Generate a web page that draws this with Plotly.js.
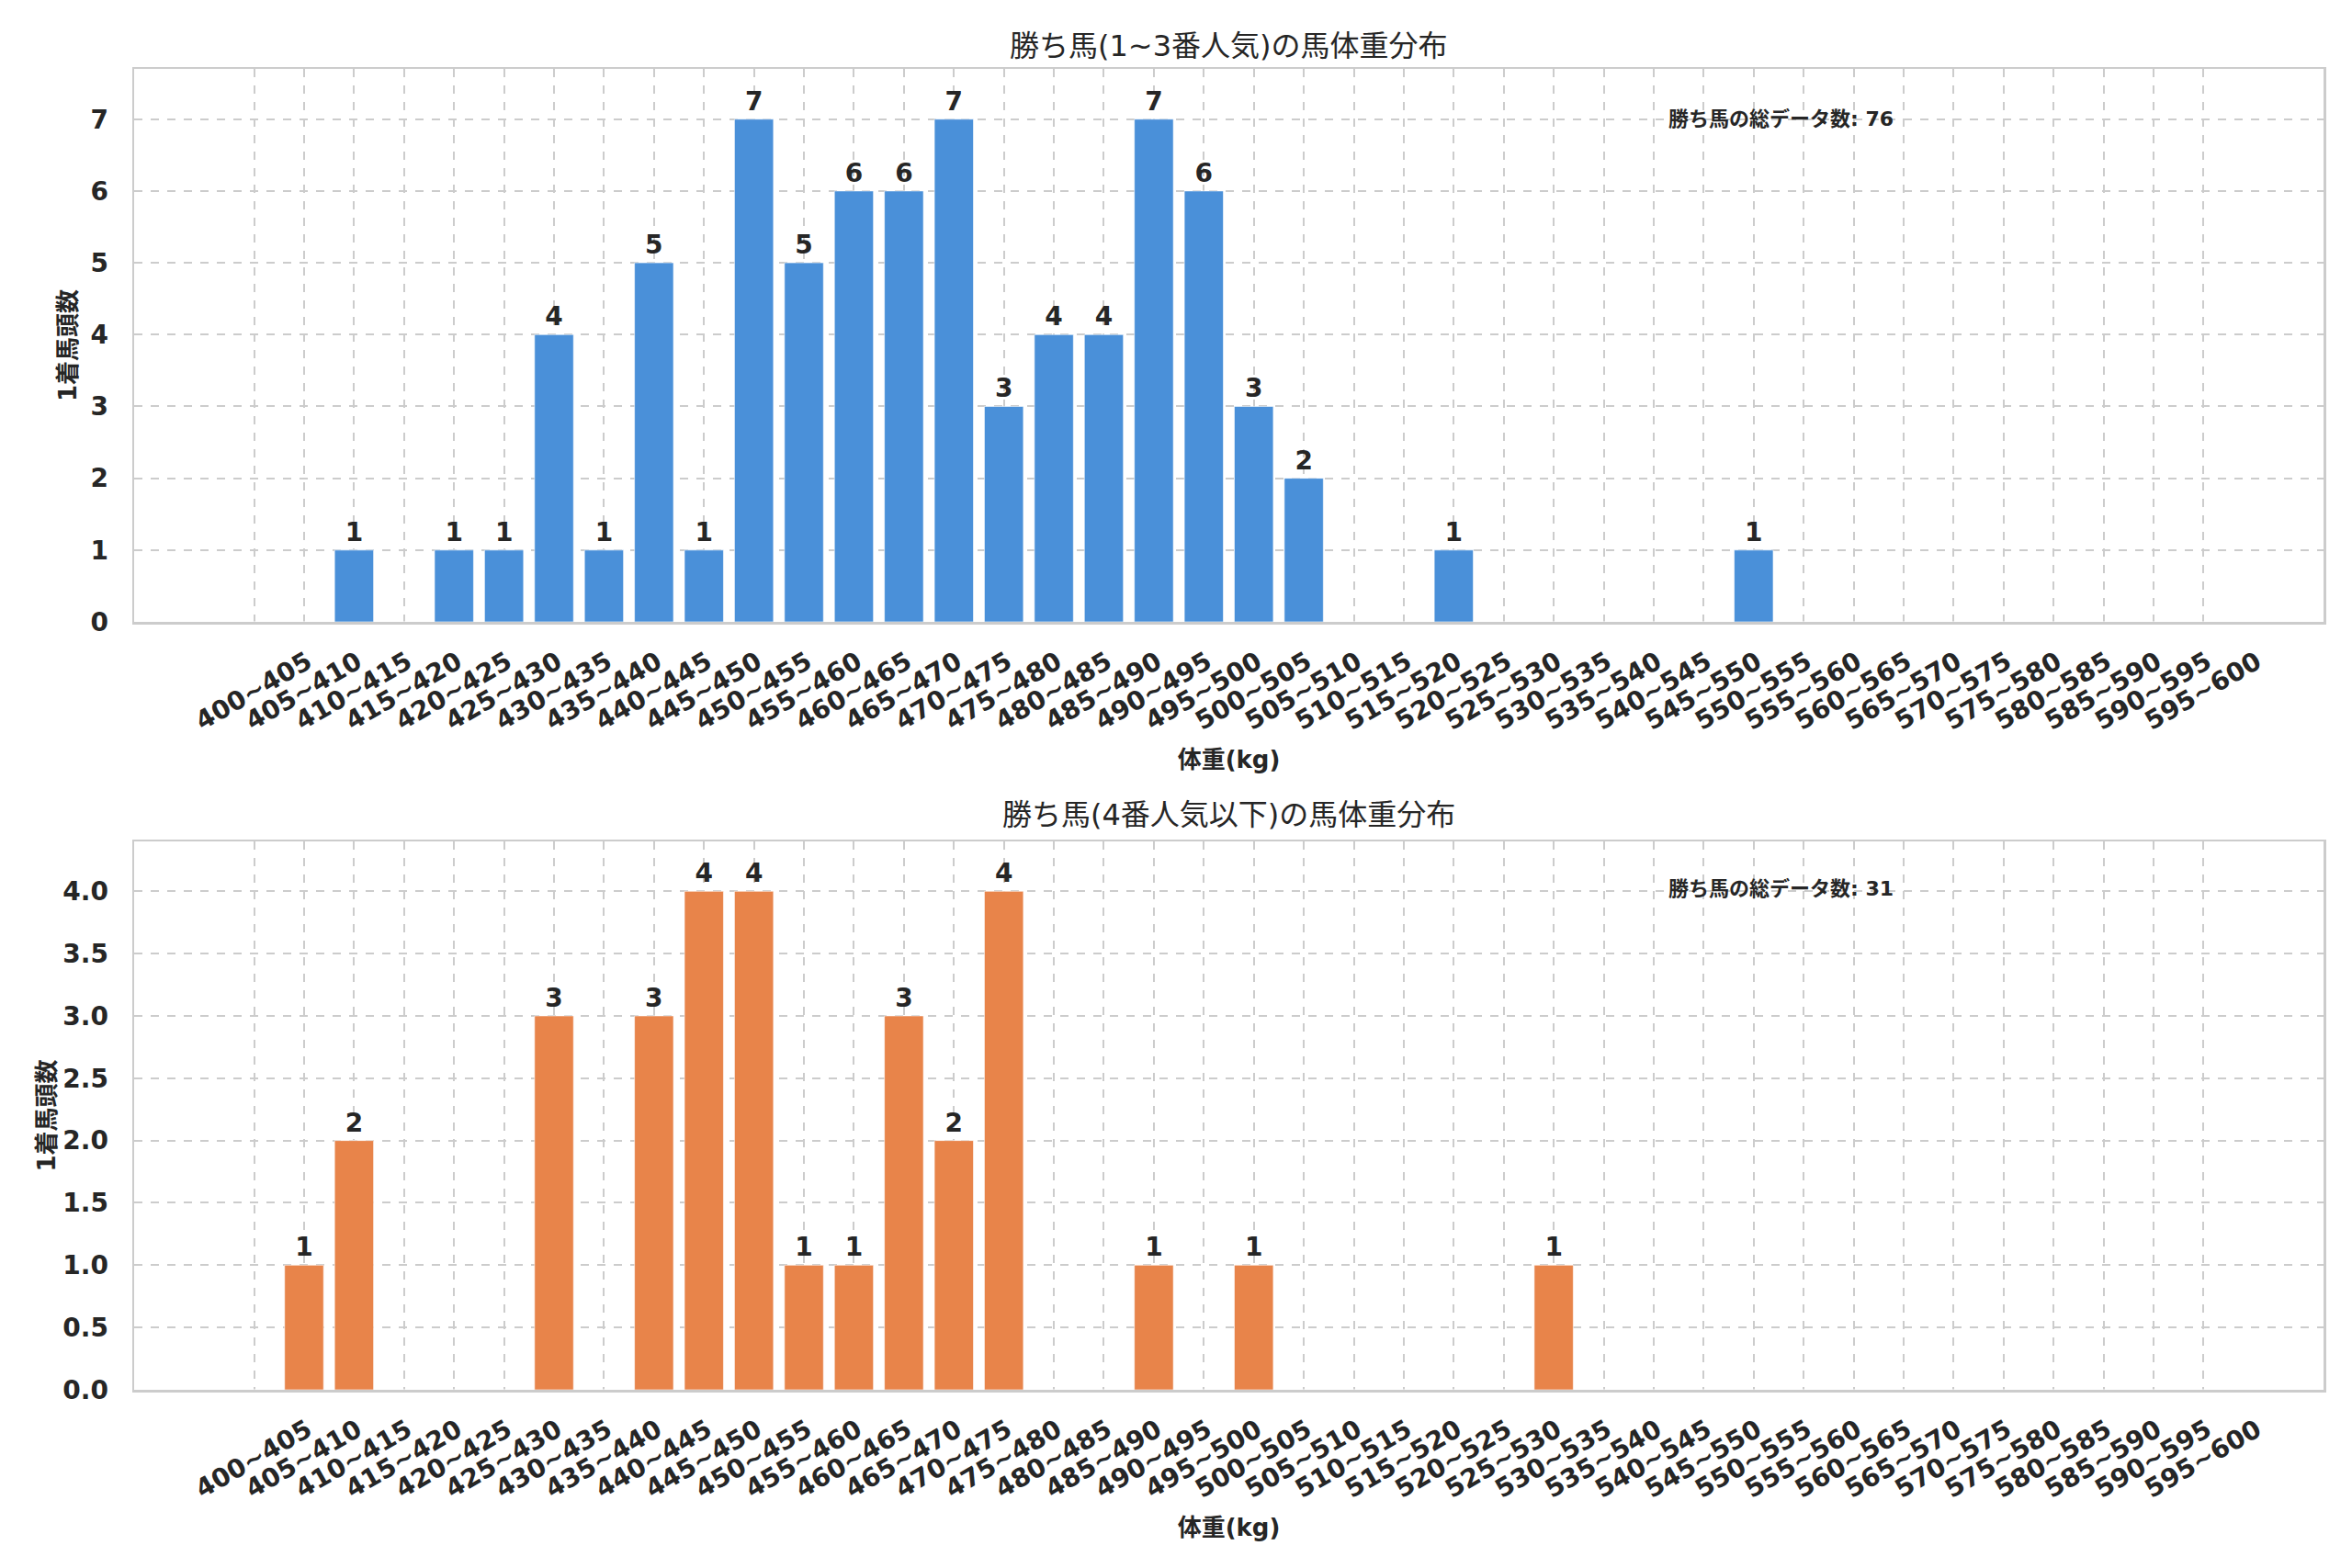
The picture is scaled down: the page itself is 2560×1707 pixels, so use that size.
<!DOCTYPE html>
<html>
<head>
<meta charset="utf-8">
<script src="https://cdn.plot.ly/plotly-3.0.1.min.js"></script>
<style>html,body{margin:0;padding:0;background:#fff;}#chart{width:2560px;height:1707px;}</style>
</head>
<body>
<div id="chart"></div>
<script>
// ---- data ----
const weightBins = ["400~405","405~410","410~415","415~420","420~425","425~430","430~435","435~440","440~445","445~450",
  "450~455","455~460","460~465","465~470","470~475","475~480","480~485","485~490","490~495","495~500",
  "500~505","505~510","510~515","515~520","520~525","525~530","530~535","535~540","540~545","545~550",
  "550~555","555~560","560~565","565~570","570~575","575~580","580~585","585~590","590~595","595~600"];
const topCounts =    [0,0,1,0,1,1,4,1,5,1, 7,5,6,6,7,3,4,4,7,6, 3,2,0,0,1,0,0,0,0,0, 1,0,0,0,0,0,0,0,0,0];
const bottomCounts = [0,1,2,0,0,0,3,0,3,4, 4,1,1,3,2,4,0,0,1,0, 1,0,0,0,0,0,1,0,0,0, 0,0,0,0,0,0,0,0,0,0];
const titleTop = "勝ち馬(1~3番人気)の馬体重分布";
const titleBottom = "勝ち馬(4番人気以下)の馬体重分布";
const xLabel = "体重(kg)";
const yLabel = "1着馬頭数";
const totalLabel = "勝ち馬の総データ数";

// ---- styling ----
const FONT = "'DejaVu Sans', 'Noto Sans CJK JP', sans-serif";
const DARK = "#262626";
const W = 2560, H = 1707;
const mL = 146, mR = 31, mT = 75, mB = 194;
const plotH = H - mT - mB;
const py = (px) => (H - mB - px) / plotH; // pixel y -> paper y

const idx = weightBins.map((_, i) => i);
const sum = a => a.reduce((s, v) => s + v, 0);
const labels = a => a.map(v => v > 0 ? String(v) : "");

function barTrace(vals, color, xa, ya) {
  return {
    type: "bar", x: idx, y: vals, xaxis: xa, yaxis: ya,
    width: 0.78,
    marker: {color: color, line: {color: "rgba(255,255,255,0.6)", width: 1}},
    text: labels(vals), textposition: "outside", cliponaxis: false,
    textfont: {family: FONT, size: 28, color: DARK, weight: "bold"},
    hoverinfo: "skip", showlegend: false
  };
}

const xCommon = {
  tickmode: "array", tickvals: idx, ticktext: weightBins, tickangle: -30,
  range: [-2.4, 41.4], showgrid: true, gridcolor: "#cccccc", griddash: "dash", gridwidth: 2,
  showline: true, mirror: true, linecolor: "#cccccc", linewidth: 2.5, zeroline: false,
  ticks: "", tickfont: {family: FONT, size: 28, color: DARK, weight: "bold"},
  ticklabelshift: 58, ticklabelstandoff: 14,
  title: {text: xLabel, font: {family: FONT, size: 26, color: DARK, weight: "bold"}, standoff: 18},
  automargin: false, fixedrange: true
};
const yCommon = {
  showgrid: true, gridcolor: "#cccccc", griddash: "dash", gridwidth: 2,
  showline: true, mirror: true, linecolor: "#cccccc", linewidth: 2.5, zeroline: false,
  ticks: "", tickfont: {family: FONT, size: 28, color: DARK, weight: "bold"},
  ticklabelstandoff: 20,
  title: {text: yLabel, font: {family: FONT, size: 26, color: DARK, weight: "bold"}},
  automargin: false, fixedrange: true
};

const maxTop = Math.max(...topCounts), maxBot = Math.max(...bottomCounts);

const layout = {
  width: W, height: H,
  margin: {l: mL, r: mR, t: mT, b: mB},
  paper_bgcolor: "#ffffff", plot_bgcolor: "#ffffff",
  font: {family: FONT, color: DARK},
  bargap: 0.2,
  xaxis: Object.assign({}, xCommon, {anchor: "y", domain: [0, 1]}),
  yaxis: Object.assign({}, yCommon, {anchor: "x", domain: [py(677), 1], range: [0, maxTop * 1.1], dtick: 1, tick0: 0}),
  xaxis2: Object.assign({}, xCommon, {anchor: "y2", domain: [0, 1]}),
  yaxis2: Object.assign({}, yCommon, {anchor: "x2", domain: [0, py(916)], range: [0, maxBot * 1.1], dtick: 0.5, tick0: 0, tickformat: ".1f"}),
  annotations: [
    {text: titleTop, xref: "paper", yref: "paper", x: 0.5, y: py(50), xanchor: "center", yanchor: "middle",
     showarrow: false, font: {family: FONT, size: 32, color: DARK}},
    {text: titleBottom, xref: "paper", yref: "paper", x: 0.5, y: py(887), xanchor: "center", yanchor: "middle",
     showarrow: false, font: {family: FONT, size: 32, color: DARK}},
    {text: totalLabel + ": " + sum(topCounts), xref: "x domain", yref: "y domain", x: 0.7, y: 0.91,
     xanchor: "left", yanchor: "middle", showarrow: false, font: {family: FONT, size: 22, color: DARK, weight: "bold"}},
    {text: totalLabel + ": " + sum(bottomCounts), xref: "x2 domain", yref: "y2 domain", x: 0.7, y: 0.913,
     xanchor: "left", yanchor: "middle", showarrow: false, font: {family: FONT, size: 22, color: DARK, weight: "bold"}}
  ]
};

Plotly.newPlot("chart", [
  barTrace(topCounts, "#4A90D9", "x", "y"),
  barTrace(bottomCounts, "#E8844A", "x2", "y2")
], layout, {displayModeBar: false, staticPlot: true});
</script>
</body>
</html>
